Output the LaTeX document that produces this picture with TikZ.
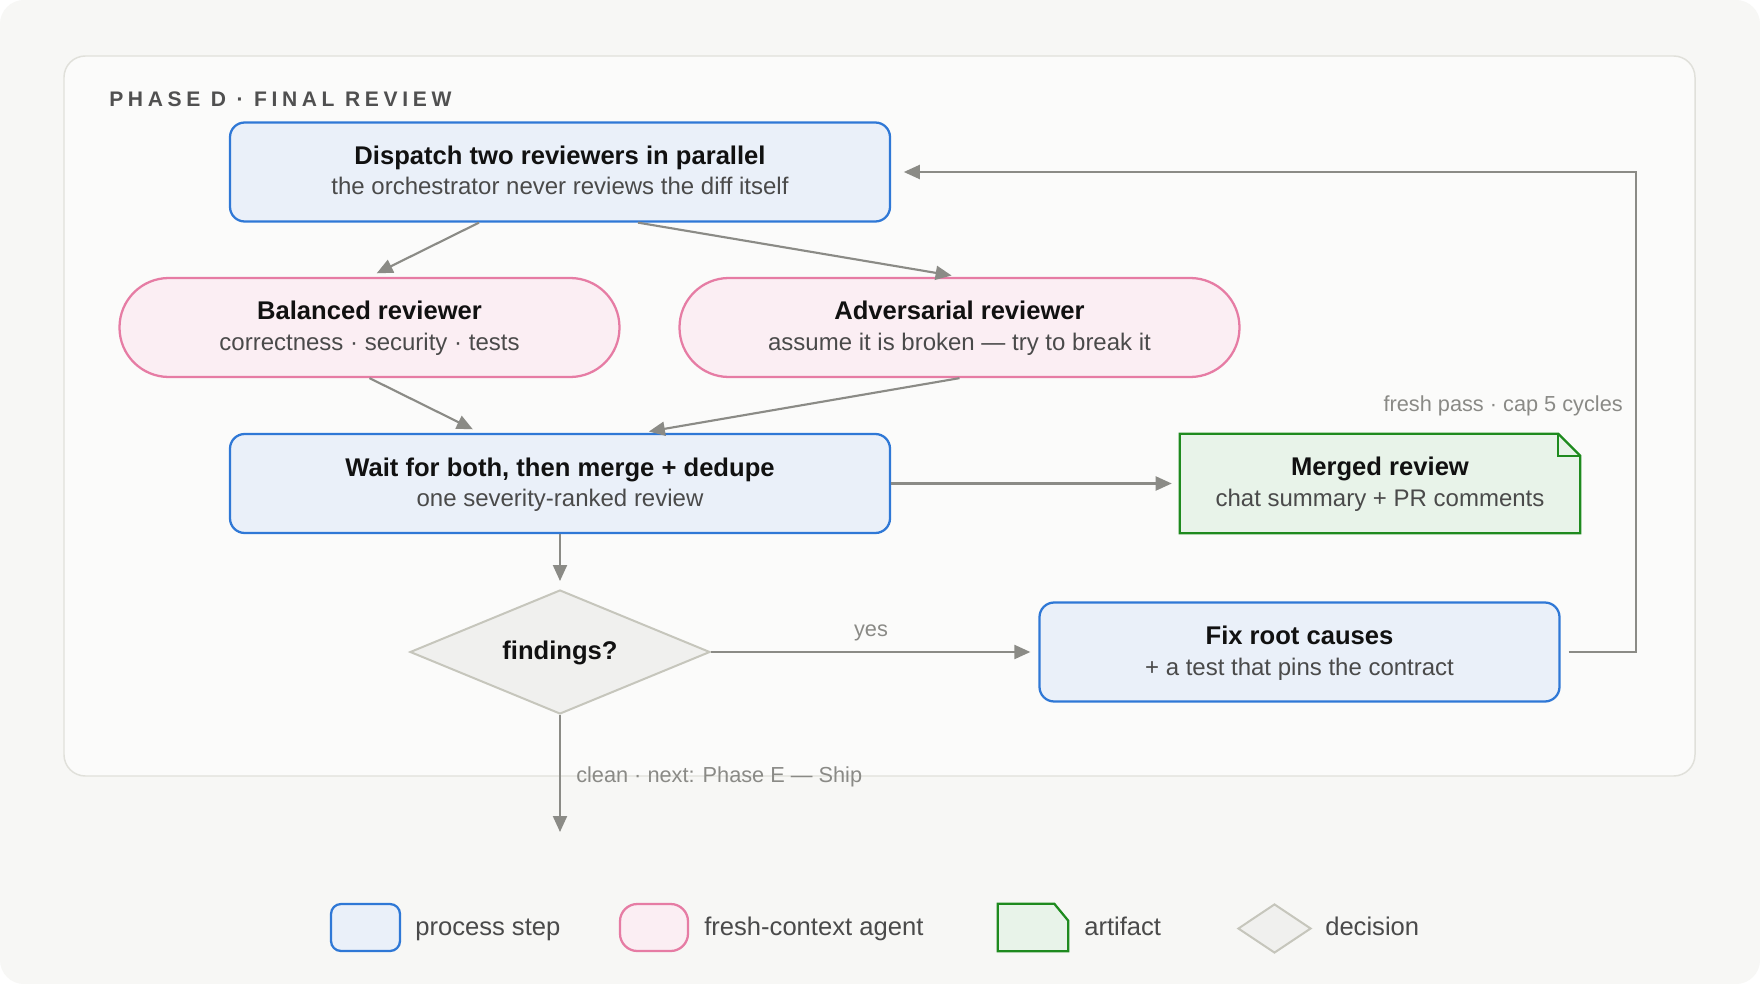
\documentclass[tikz,border=0pt]{standalone}
\usepackage{fontspec}
\setmainfont{Liberation Sans}
\newfontfamily\trackfont[LetterSpace=22]{Liberation Sans}
\usetikzlibrary{arrows.meta,calc,shapes.geometric}
\definecolor{pagebg}{HTML}{F7F7F5}
\definecolor{panelbg}{HTML}{FBFBFA}
\definecolor{panelline}{HTML}{E0E0DA}
\definecolor{procfill}{HTML}{EAF0F9}
\definecolor{procline}{HTML}{2F78D6}
\definecolor{agentfill}{HTML}{FBEEF3}
\definecolor{agentline}{HTML}{E67CA4}
\definecolor{artfill}{HTML}{E8F3E9}
\definecolor{artline}{HTML}{1E8A1E}
\definecolor{decfill}{HTML}{F0F0EE}
\definecolor{decline}{HTML}{C6C6BC}
\definecolor{arrowc}{HTML}{8B8B86}
\definecolor{maintext}{HTML}{111111}
\definecolor{subtext}{HTML}{4A4A4A}
\definecolor{labeltext}{HTML}{8A8A86}
\definecolor{titletext}{HTML}{505050}
\tikzset{
  panelbox/.style={fill=panelbg, draw=panelline, line width=1.1pt, rounded corners=16pt},
  proc/.style={draw=procline, fill=procfill, line width=1.7pt, rounded corners=11pt, minimum height=74.25pt, inner sep=0pt},
  agent/.style={draw=agentline, fill=agentfill, line width=1.7pt, rounded corners=37pt, minimum height=74.25pt, inner sep=0pt},
  artnode/.style={draw=none, fill=none, minimum height=74.25pt, inner sep=0pt},
  artshape/.style={draw=artline, fill=artfill, line width=1.7pt},
  decision/.style={diamond, draw=decline, fill=decfill, line width=1.5pt, inner sep=0pt},
  boxtitle/.style={font=\fontsize{19.2}{23}\selectfont\bfseries, text=maintext, inner sep=0pt, anchor=base},
  boxsub/.style={font=\fontsize{18}{22}\selectfont, text=subtext, inner sep=0pt, anchor=base},
  edgelabel/.style={font=\fontsize{16.3}{20}\selectfont, text=labeltext, inner sep=0pt},
  legendtext/.style={font=\fontsize{19.2}{23}\selectfont, text=subtext, inner sep=0pt, anchor=base west},
  phasetitle/.style={font=\fontsize{15.8}{18}\trackfont\bfseries, text=titletext, inner sep=0pt, anchor=base west},
  conn/.style={draw=arrowc, line width=1.6pt, -{Triangle[length=12pt,width=10.5pt]}},
  gap/.style={shorten >=6pt}
}
\begin{document}
\begin{tikzpicture}[x=0.75pt,y=-0.75pt]
\useasboundingbox (0,0) rectangle (1760,984);
\fill[white] (0,0) rectangle (1760,984);
\fill[pagebg, rounded corners=18pt] (0,0) rectangle (1760,984);
\draw[panelbox] (64,56) rectangle (1695,776);

\node[phasetitle] (ptitle) at (109,107) {PHASE D · FINAL REVIEW};

% process: dispatch
\node[proc, minimum width=495pt] (disp) at (560,172) {};
\node[boxtitle] (dispT) at ($(disp.center)+(0,-7.5)$) {Dispatch two reviewers in parallel};
\node[boxsub] (dispS) at ($(disp.center)+(0,23)$) {the orchestrator never reviews the diff itself};

% agents
\node[agent, minimum width=375pt] (bal) at (369.5,327.5) {};
\node[boxtitle] (balT) at ($(bal.center)+(0,-7.5)$) {Balanced reviewer};
\node[boxsub] (balS) at ($(bal.center)+(0,23)$) {correctness · security · tests};

\node[agent, minimum width=420pt] (adv) at (959.5,327.5) {};
\node[boxtitle] (advT) at ($(adv.center)+(0,-7.5)$) {Adversarial reviewer};
\node[boxsub] (advS) at ($(adv.center)+(0,23)$) {assume it is broken — try to break it};

% wait
\node[proc, minimum width=495pt] (wait) at (560,483.5) {};
\node[boxtitle] (waitT) at ($(wait.center)+(0,-7.5)$) {Wait for both, then merge + dedupe};
\node[boxsub] (waitS) at ($(wait.center)+(0,23)$) {one severity-ranked review};

% artifact
\node[artnode, minimum width=300pt] (merged) at (1380,483.5) {};
\filldraw[artshape] (merged.north west) -- ($(merged.north east)+(-22,0)$) -- ($(merged.north east)+(0,22)$) -- (merged.south east) -- (merged.south west) -- cycle;
\draw[artline, line width=1.7pt] ($(merged.north east)+(-22,0)$) -- ($(merged.north east)+(-22,22)$) -- ($(merged.north east)+(0,22)$);
\node[boxtitle] (mergedT) at ($(merged.center)+(0,-8.5)$) {Merged review};
\node[boxsub] (mergedS) at ($(merged.center)+(0,22.5)$) {chat summary + PR comments};

% decision
\node[decision, minimum width=225pt, minimum height=93pt] (dec) at (560,652) {};
\node[boxtitle] (decT) at (560,659) {findings?};

% fix
\node[proc, minimum width=390pt, minimum height=74.25pt] (fix) at (1299.5,652) {};
\node[boxtitle] (fixT) at ($(fix.center)+(0,-7.5)$) {Fix root causes};
\node[boxsub] (fixS) at ($(fix.center)+(0,23)$) {+ a test that pins the contract};

% connectors
\draw[conn, gap] ($(disp.south)+(-81,0)$) -- (bal.north);
\draw[conn, gap] ($(disp.south)+(78,0)$) -- (adv.north);
\draw[conn, gap] (bal.south) -- ($(wait.north)+(-80,0)$);
\draw[conn, gap] (adv.south) -- ($(wait.north)+(81,0)$);
\draw[conn, gap] (wait.east) -- (merged.west);
\draw[conn, gap] (wait.south) -- (dec.north);
\draw[conn, gap] (dec.east) -- (fix.west);
\node[edgelabel, anchor=base] (yes) at (871,636) {yes};
\coordinate (exit) at (560,832);
\draw[conn] (dec.south) -- (exit);
\node[edgelabel, anchor=base west] (cleanL) at (576,782) {clean · next: Phase E — Ship};
\coordinate (loopc) at (1636,652);
\draw[conn, shorten <=6pt, shorten >=9.5pt] (fix.east) -- (loopc) |- (disp.east);
\node[edgelabel, anchor=base east] (freshL) at (1623,411) {fresh pass · cap 5 cycles};

% legend
\node[proc, minimum width=51.75pt, minimum height=35.25pt, rounded corners=7.5pt] (lgproc) at (365.5,927.5) {};
\node[legendtext] (lgprocT) at (415,935) {process step};
\node[agent, minimum width=51pt, minimum height=35.25pt, rounded corners=13pt] (lgagent) at (654,927.5) {};
\node[legendtext] (lgagentT) at (704,935) {fresh-context agent};
\node[artnode, minimum width=52.5pt, minimum height=35.25pt] (lgart) at (1033,927.5) {};
\filldraw[artshape] (lgart.north west) -- ($(lgart.north east)+(-14,0)$) -- ($(lgart.north east)+(0,17)$) -- (lgart.south east) -- (lgart.south west) -- cycle;
\node[legendtext] (lgartT) at (1084,935) {artifact};
\node[decision, minimum width=54.75pt, minimum height=36.75pt] (lgdec) at (1274.5,928.5) {};
\node[legendtext] (lgdecT) at (1325,935) {decision};
\end{tikzpicture}
\end{document}
